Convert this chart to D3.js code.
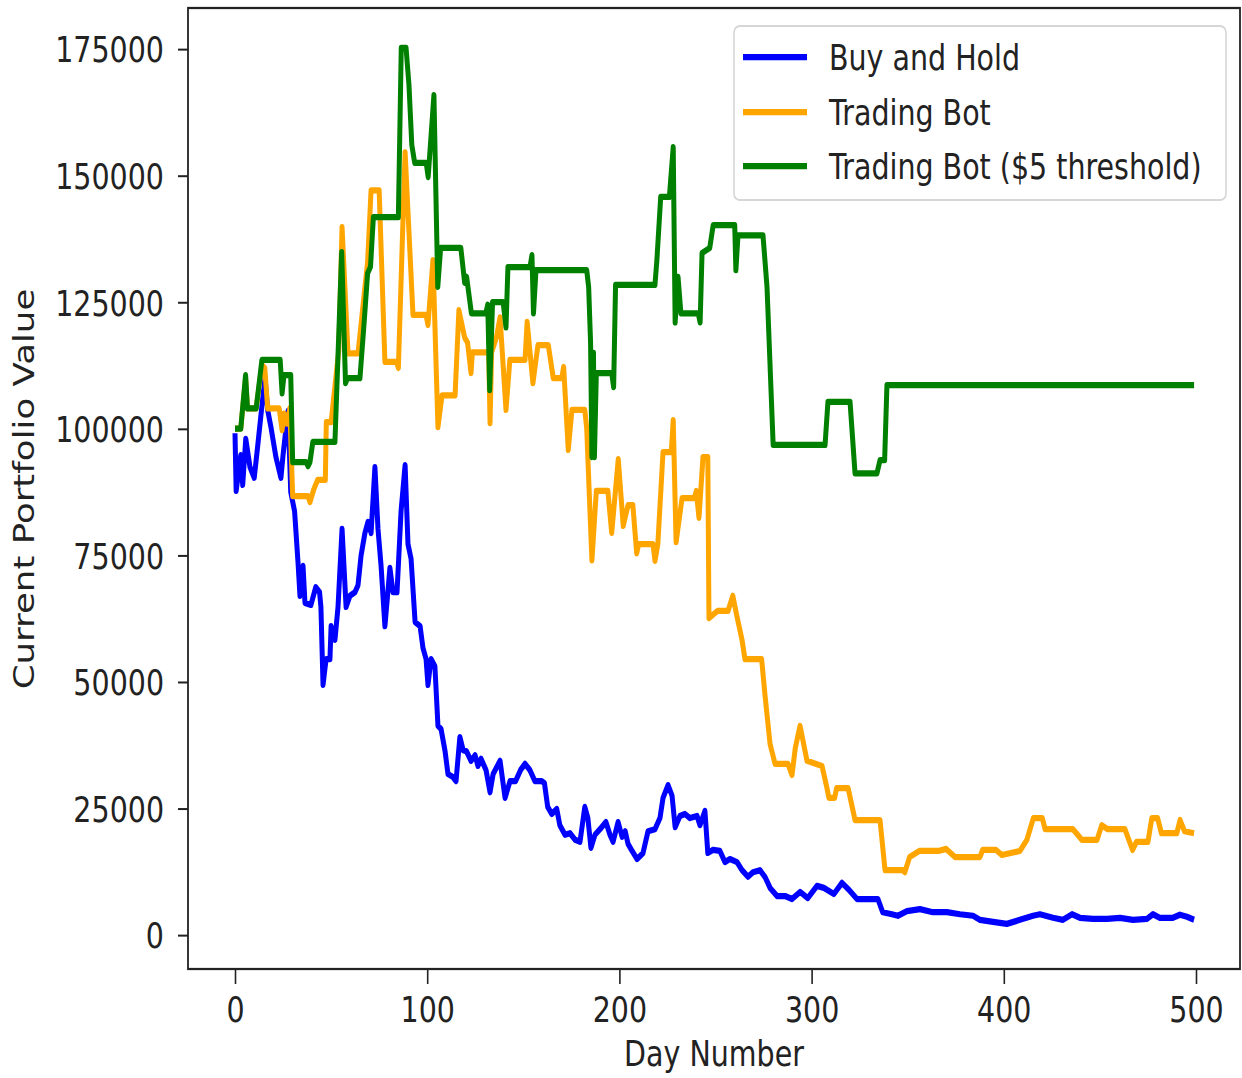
<!DOCTYPE html>
<html lang="en">
<head>
<meta charset="UTF-8">
<title>Portfolio Value</title>
<script src="https://d3js.org/d3.v7.min.js"></script>
<style>
  body { margin: 0; padding: 0; background: #fff; }
  svg { display: block; }
  text { font-family: "DejaVu Sans", sans-serif; fill: #222; }
</style>
</head>
<body>
<svg id="chart"></svg>
<script>
// data: [day, value]
const buyAndHold = [
  [0,99100],[0.6,87700],[3,94800],[4,88900],[5.6,98000],[7.8,92400],[10,90300],[11.7,96200],[13.5,102700],
  [15.6,110200],[17,103700],[18.7,100300],[21.3,94400],[23.9,90300],[25,94800],[26.5,100000],[27.6,103500],
  [29,87500],[31,83700],[32.8,73500],[33.8,67000],[35.4,72900],[36.4,65600],[39.5,65200],[42,68700],[44,67700],
  [44.7,64800],[45.8,49400],[47.4,54500],[49.4,54500],[50,61000],[52,58300],[53.6,64800],[55.7,80200],
  [57.8,64800],[59.8,67000],[62.4,67700],[64,69100],[65.6,75000],[67.6,79400],[69.2,81600],[70.8,79400],
  [72.8,92400],[74.4,80200],[76,72900],[78,61000],[80.6,72500],[82.2,67700],[84.3,67700],[86.4,83700],
  [88.5,92800],[90,77200],[91.6,74300],[93.7,61800],[96.3,61000],[97.8,56700],[99.4,54500],[100.4,49400],
  [102,54500],[104,53100],[105.6,41300],[107.2,40700],[109.3,36300],[110.8,31800],[113.4,31200],[115,30400],
  [117,39100],[118.7,36500],[120.4,36300],[122.8,34400],[124.9,35500],[126.4,33400],[128,34800],[130.6,32600],
  [132.7,28200],[134.3,31800],[137.9,34400],[140.5,27100],[143.1,30400],[146,30400],[148.6,32600],[150.9,33800],
  [153.4,32600],[156,30400],[159.6,30400],[161,30000],[162.7,25300],[164.8,23900],[167.4,24900],[169,21700],
  [171.7,19800],[174.3,20100],[177,18800],[179.5,18400],[182,25300],[183.6,23100],[185.2,17200],[187.3,19800],
  [189.9,20900],[193,22300],[195.1,19800],[196.7,18400],[199.3,22300],[201.4,19400],[203,20500],[204.5,18000],
  [206.6,16600],[209.2,15000],[212.3,16200],[214.9,20500],[218.5,20900],[221.1,23100],[222.7,27100],[225.3,29600],
  [227.4,27500],[229,21300],[231.5,23500],[234.1,23900],[236.7,23100],[240.4,23500],[241.9,21700],[244.5,24500],
  [246,16200],[248.7,16800],[252.3,16600],[254.9,14400],[257.5,15000],[261.2,14400],[263.8,12800],[266.9,11500],
  [269.5,12400],[273.1,12800],[275.7,11500],[278.4,9300],[282,7700],[286.2,7700],[289.8,7100],[294,8500],
  [298,7300],[302.8,9700],[306.4,9300],[311.6,8100],[315.8,10300],[319.5,8900],[323.6,7100],[334.5,7100],
  [337,4500],[341.8,4100],[344.9,3800],[349.6,4700],[356.4,5100],[363.1,4500],[370.4,4500],[377.2,4100],
  [384,3800],[387.6,3000],[394.4,2600],[401.6,2200],[408.4,3000],[415.2,3800],[418.8,4100],[425.6,3400],
  [430.8,3000],[435.5,4100],[439.6,3400],[446.4,3200],[453.7,3200],[460.5,3400],[467.2,3000],[474.5,3200],
  [477.6,4100],[481.2,3400],[488,3400],[491.6,4000],[495.3,3600],[499,3000]
];

const tradingBot = [
  [0,100000],[3,100000],[5.5,110000],[6.5,104000],[11,104000],[14,112600],[15.5,112000],[17,104000],
  [23,104000],[24.5,99700],[25.5,103000],[27,101000],[28.5,104000],[30,86700],[38,86700],[39,85500],
  [41,88000],[43,89900],[47,89900],[47.5,101300],[50,101300],[54,115500],[55.7,139800],[58.8,114900],
  [64,114900],[69,133000],[70.8,147100],[75,147100],[78,113200],[84,113200],[85,112000],[88.5,154600],
  [92.6,122500],[99.4,122500],[100.4,120500],[103,133300],[105.6,100300],[107.7,106600],[114.5,106600],
  [116.5,123400],[119.5,118000],[121,117000],[122.8,111000],[123.5,115100],[132,115100],[132.7,101100],
  [133.5,115100],[136,118000],[137.9,122000],[141,103700],[143,113600],[150.9,113600],[152,121100],
  [155,109000],[157.6,116500],[163,116500],[165.6,110000],[170,110000],[171,112200],[173.4,95800],
  [175.3,103700],[182,103700],[183,100000],[185.7,74000],[188,87700],[194,87700],[196,79400],[199.4,94000],
  [202,80800],[204.5,84900],[207,84900],[209,75400],[210,77200],[217.5,77200],[218.5,73900],[220,77200],
  [222.7,95400],[227,95400],[228,101700],[229.5,77600],[232.6,86300],[239,86300],[240,87700],[241.4,82400],
  [243.5,94400],[246,94400],[246.6,62600],[251,64000],[256.5,64000],[259,67000],[261,63200],[263.8,58300],
  [265.3,54500],[274,54500],[275.8,47200],[278.4,37700],[281,33800],[287.7,33800],[289.8,31600],[291.5,36900],
  [294,41300],[297.6,34400],[305.4,33400],[308,29000],[309,27100],[312,27100],[313,29000],[319,29000],
  [322.6,22700],[335.6,22700],[338.2,12800],[347.5,12800],[348.5,12400],[351,15400],[356,16600],[366,16600],
  [370,17000],[374.6,15400],[387.6,15400],[389,16800],[396,16800],[399,15800],[408.4,16600],[412,18800],
  [415.4,23100],[420,23100],[421.5,20900],[436,20900],[440.6,18800],[448.5,18800],[451,21700],[454,20900],
  [463,20900],[467,16800],[469,18400],[475,18400],[477,23100],[480,23100],[482,20100],[490,20100],
  [491.7,22700],[494,20500],[499,20100]
];

const tradingBotThreshold = [
  [0,100000],[3,100000],[5.5,110600],[6.5,104000],[11,104000],[14,113600],[23.5,113600],[24.5,107000],
  [25.5,110600],[29,110600],[30,93400],[37,93400],[38,92600],[39,93400],[40.5,97400],[52,97400],
  [55.5,134900],[57.5,109000],[58.5,110000],[65,110000],[67,120000],[69,130700],[70.5,132000],[72,141800],
  [85,141800],[86.5,175200],[89,175200],[90.5,168000],[92,156000],[93.5,152500],[99.5,152500],[100.5,149700],
  [103.5,165900],[105.5,128000],[107,135700],[117.5,135700],[119.5,128800],[120.5,130000],[123,122800],
  [130.5,122800],[131.5,124500],[132.5,107600],[134,125000],[139.5,125000],[141,120000],[142,131900],
  [153.5,131900],[154.5,134300],[155.3,122800],[156.6,131300],[183,131300],[184,128000],[185,117000],
  [185.7,94400],[186.5,115000],[187,94400],[188,111000],[196,111000],[197,108200],[198,128400],[218.5,128400],
  [219.5,133300],[221.5,145800],[226,145800],[228,155600],[229,121000],[230.5,130000],[232,122800],
  [241,122800],[242,121000],[243,134700],[247,135700],[248.8,140200],[260,140200],[260.6,131300],
  [261.7,138200],[274.7,138200],[276.8,128000],[280,96800],[307,96800],[308.5,105300],[320,105300],
  [322.6,91200],[334,91200],[335.6,93800],[338,93800],[339.2,108600],[499,108600]
];

const seriesNames = ["Buy and Hold", "Trading Bot", "Trading Bot ($5 threshold)"];
const seriesColors = ["blue", "orange", "green"];
const xTicks = [0, 100, 200, 300, 400, 500];
const yTicks = [0, 25000, 50000, 75000, 100000, 125000, 150000, 175000];

// the reference is a matplotlib figure stretched vertically; draw in a
// squashed coordinate system and let the viewBox stretch it back
const W = 1242, H = 1078, sy = 1.25;
const VH = H / sy;

const svg = d3.select("#chart")
  .attr("width", W).attr("height", H)
  .attr("viewBox", `0 0 ${W} ${VH}`)
  .attr("preserveAspectRatio", "none");

const frame = { left: 188, right: 1240, top: 8 / sy, bottom: 969 / sy };

const x = d3.scaleLinear().domain([0, 500]).range([235, 1196]);
const y = d3.scaleLinear().domain([0, 175000]).range([935 / sy, 49 / sy]);

const fs = 28.5;

// axes
const xAxis = d3.axisBottom(x).tickValues(xTicks).tickSize(12).tickPadding(6).tickFormat(d3.format("d"));
const yAxis = d3.axisLeft(y).tickValues(yTicks).tickSize(10).tickPadding(14).tickFormat(d3.format("d"));

const gx = svg.append("g").attr("transform", `translate(0,${frame.bottom})`).call(xAxis);
const gy = svg.append("g").attr("transform", `translate(${frame.left},0)`).call(yAxis);

[gx, gy].forEach(g => {
  g.select(".domain").remove();
  g.selectAll(".tick line").attr("stroke", "#222").attr("stroke-width", 1.6);
  g.selectAll(".tick text").attr("font-size", fs).attr("fill", "#222")
    .style("font-family", "'DejaVu Sans', sans-serif");
});
gx.selectAll(".tick text").attr("dy", null).attr("y", 817.6 - frame.bottom);
gy.selectAll(".tick text").attr("x", 164 - frame.left).attr("dy", "0.36em");

// lines
const line = d3.line().x(d => x(d[0])).y(d => y(d[1]));
const allSeries = [buyAndHold, tradingBot, tradingBotThreshold];

svg.append("g").selectAll("path")
  .data(allSeries)
  .join("path")
  .attr("d", line)
  .attr("fill", "none")
  .attr("stroke", (d, i) => seriesColors[i])
  .attr("stroke-width", 5)
  .attr("stroke-linejoin", "round")
  .attr("stroke-linecap", "butt");

// frame
svg.append("rect")
  .attr("x", frame.left).attr("y", frame.top)
  .attr("width", frame.right - frame.left).attr("height", frame.bottom - frame.top)
  .attr("fill", "none").attr("stroke", "#222").attr("stroke-width", 1.8);

// axis labels
svg.append("text")
  .attr("x", (frame.left + frame.right) / 2).attr("y", 1066 / sy)
  .attr("text-anchor", "middle").attr("font-size", fs)
  .text("Day Number");

svg.append("text")
  .attr("transform", `translate(34,${489 / sy}) rotate(-90)`)
  .attr("text-anchor", "middle").attr("font-size", fs)
  .text("Current Portfolio Value");

// legend
const legend = svg.append("g");
legend.append("rect")
  .attr("x", 734).attr("y", 26 / sy)
  .attr("width", 1226 - 734).attr("height", (200 - 26) / sy)
  .attr("rx", 6).attr("ry", 5)
  .attr("fill", "#fff").attr("fill-opacity", 0.8)
  .attr("stroke", "#d6d6d6").attr("stroke-width", 1.6);

const rowY = [57, 112, 166].map(v => v / sy);
seriesNames.forEach((name, i) => {
  legend.append("line")
    .attr("x1", 743).attr("x2", 807)
    .attr("y1", rowY[i]).attr("y2", rowY[i])
    .attr("stroke", seriesColors[i]).attr("stroke-width", 5);
  legend.append("text")
    .attr("x", 829).attr("y", rowY[i]).attr("dy", "0.36em")
    .attr("font-size", fs)
    .text(name);
});
</script>
</body>
</html>
